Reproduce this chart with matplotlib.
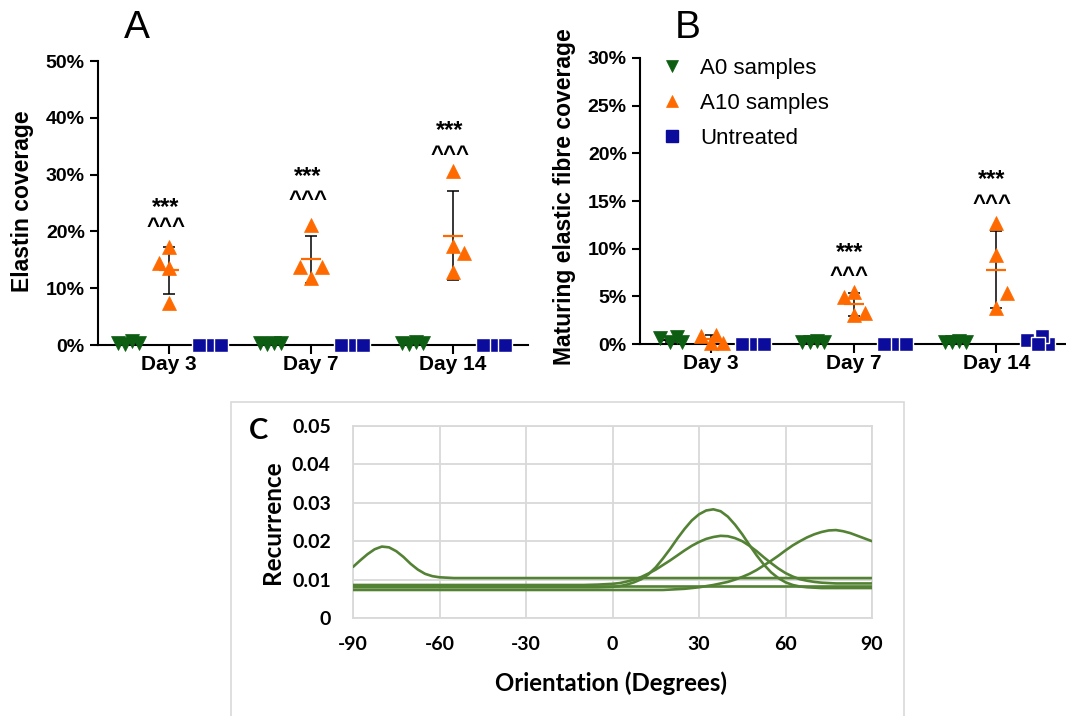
import numpy as np
import matplotlib
matplotlib.use("Agg")
import matplotlib.pyplot as plt
from matplotlib.patches import Rectangle
from matplotlib.ticker import FuncFormatter, MultipleLocator

plt.rcParams["axes.unicode_minus"] = False

W, H = 1066, 716

days = ["Day 3", "Day 7", "Day 14"]

# panel A - elastin coverage (%), 4 samples per group
a_a0 = [[0.4, 0.2, 0.7, 0.3], [0.3, 0.2, 0.4, 0.3], [0.3, 0.2, 0.5, 0.3]]
a_a10 = [[17.3, 14.4, 13.5, 7.4], [21.1, 13.7, 13.7, 11.8], [30.6, 17.4, 16.2, 12.9]]
a_untr = [[0.0, 0.0, 0.0, 0.0], [0.0, 0.0, 0.0, 0.0], [0.0, 0.0, 0.0, 0.0]]

# panel B - maturing elastic fibre coverage (%)
b_a0 = [[0.6, 0.2, 0.7, 0.2], [0.2, 0.2, 0.3, 0.2], [0.2, 0.2, 0.3, 0.2]]
b_a10 = [[0.8, 0.95, 0.1, 0.1], [4.9, 5.5, 3.0, 3.3], [12.7, 9.3, 5.4, 3.8]]
b_untr = [[0.05, 0.05, 0.05, 0.05], [0.05, 0.05, 0.05, 0.05], [0.05, 0.85, 0.4, 0.05]]

sig_top = "***"
sig_bot = "^^^"

# panel C - orientation distributions (read every 2.5 deg where curves bend)
orientation = [-90, -87.5, -85, -82.5, -80, -77.5, -75, -72.5, -70, -67.5, -65, -62.5,
               -60, -57.5, -55, -50, -45, -40, -35, -30, -25, -20, -15, -10, -5,
               0, 2.5, 5, 7.5, 10, 12.5, 15, 17.5, 20, 22.5, 25, 27.5, 30, 32.5, 35,
               37.5, 40, 42.5, 45, 47.5, 50, 52.5, 55, 57.5, 60, 62.5, 65, 67.5, 70,
               72.5, 75, 77.5, 80, 82.5, 85, 87.5, 90]
rec_1 = [0.0133, 0.0150, 0.0166, 0.0179, 0.0186, 0.0184, 0.0174, 0.0159, 0.0141, 0.0126,
         0.0115, 0.0109, 0.0106, 0.0105, 0.0104,
         0.0104, 0.0104, 0.0104, 0.0104, 0.0104, 0.0104, 0.0104, 0.0104, 0.0104, 0.0104,
         0.0104, 0.0104, 0.0104, 0.0104, 0.0104, 0.0104, 0.0104, 0.0104, 0.0104, 0.0104,
         0.0104, 0.0104, 0.0104, 0.0104, 0.0104, 0.0104, 0.0104, 0.0104, 0.0104, 0.0104,
         0.0104, 0.0104, 0.0104, 0.0104, 0.0104, 0.0104, 0.0104, 0.0104, 0.0104, 0.0104,
         0.0104, 0.0104, 0.0104, 0.0104, 0.0104, 0.0104, 0.0104]
rec_2 = [0.0080, 0.0080, 0.0080, 0.0080, 0.0080, 0.0080, 0.0080, 0.0080, 0.0080, 0.0080,
         0.0080, 0.0080, 0.0080, 0.0080, 0.0080,
         0.0080, 0.0080, 0.0080, 0.0080, 0.0080, 0.0080, 0.0080, 0.0080, 0.0080, 0.0080,
         0.0081, 0.0083, 0.0087, 0.0093, 0.0101, 0.0114, 0.0132, 0.0155, 0.0180, 0.0207,
         0.0232, 0.0254, 0.0270, 0.0280, 0.0283, 0.0278, 0.0264, 0.0243, 0.0218, 0.0190,
         0.0163, 0.0139, 0.0119, 0.0104, 0.0093, 0.0086, 0.0082, 0.0080, 0.0079, 0.0078,
         0.0078, 0.0078, 0.0078, 0.0078, 0.0078, 0.0078, 0.0078]
rec_3 = [0.0086, 0.0086, 0.0086, 0.0086, 0.0086, 0.0086, 0.0086, 0.0086, 0.0086, 0.0086,
         0.0086, 0.0086, 0.0086, 0.0086, 0.0086,
         0.0086, 0.0086, 0.0086, 0.0086, 0.0086, 0.0086, 0.0086, 0.0086, 0.0086, 0.0087,
         0.0089, 0.0091, 0.0095, 0.0100, 0.0107, 0.0116, 0.0126, 0.0138, 0.0150, 0.0163,
         0.0176, 0.0188, 0.0198, 0.0206, 0.0211, 0.0214, 0.0213, 0.0208, 0.0200, 0.0188,
         0.0174, 0.0158, 0.0143, 0.0129, 0.0117, 0.0108, 0.0101, 0.0097, 0.0094, 0.0092,
         0.0091, 0.0090, 0.0090, 0.0090, 0.0090, 0.0090, 0.0090]
rec_4 = [0.0073, 0.0073, 0.0073, 0.0073, 0.0073, 0.0073, 0.0073, 0.0073, 0.0073, 0.0073,
         0.0073, 0.0073, 0.0073, 0.0073, 0.0073,
         0.0073, 0.0073, 0.0073, 0.0073, 0.0073, 0.0073, 0.0073, 0.0073, 0.0073, 0.0073,
         0.0073, 0.0073, 0.0073, 0.0073, 0.0073, 0.0073, 0.0073, 0.0073, 0.0074, 0.0075,
         0.0076, 0.0078, 0.0080, 0.0083, 0.0086, 0.0090, 0.0094, 0.0100, 0.0107, 0.0115,
         0.0125, 0.0137, 0.0149, 0.0162, 0.0176, 0.0189, 0.0200, 0.0210, 0.0218, 0.0224,
         0.0228, 0.0229, 0.0226, 0.0221, 0.0214, 0.0207, 0.0200]
rec_5 = [0.0083, 0.0083, 0.0083, 0.0083, 0.0083, 0.0083, 0.0083, 0.0083, 0.0083, 0.0083,
         0.0083, 0.0083, 0.0083, 0.0083, 0.0083,
         0.0083, 0.0083, 0.0083, 0.0083, 0.0083, 0.0083, 0.0083, 0.0083, 0.0083, 0.0083,
         0.0083, 0.0083, 0.0083, 0.0083, 0.0083, 0.0083, 0.0083, 0.0083, 0.0083, 0.0083,
         0.0083, 0.0083, 0.0083, 0.0083, 0.0083, 0.0083, 0.0083, 0.0083, 0.0083, 0.0083,
         0.0083, 0.0083, 0.0083, 0.0083, 0.0083, 0.0083, 0.0083, 0.0083, 0.0083, 0.0083,
         0.0083, 0.0083, 0.0083, 0.0083, 0.0083, 0.0083, 0.0083]

GREEN = "#0d5e12"
ORANGE = "#ff6a00"
NAVY = "#0c0c9c"
CGREEN = "#548235"
ARIAL = "Liberation Sans"
CAL = "Lato"

# layout: horizontal jitter of the points inside each group
grp_shift = {"a0": -0.285, "a10": 0.0, "untr": 0.29}
jit_tri = [-0.075, -0.025, 0.025, 0.075]
jit_sq = [-0.01, 0.01, -0.077, 0.077]
a_jit_a10 = [[0, -0.07, 0, 0], [0, -0.077, 0.077, 0], [0, 0, 0.077, 0]]
b_jit_a10 = [[-0.07, 0.035, 0, 0.08], [-0.07, 0, 0, 0.08], [0, 0, 0.077, 0]]
b_jit_a0 = [-0.077, -0.007, 0.042, 0.077]
b_jit_untr14 = [0.07, 0.03, -0.075, 0.0]


def draw_group(ax, pos, vals, jit, color, marker, mean_color):
    x = pos + np.array(jit)
    if marker == "s":
        edge, mew = "white", 1.0
    else:
        edge, mew = color, 0.5
    h, = ax.plot(x, vals, ls="none", marker=marker, ms=10, color=color,
                 mec=edge, mew=mew, zorder=4, clip_on=False)
    m = np.mean(vals)
    s = np.std(vals, ddof=1)
    ax.errorbar(pos, m, yerr=s, color="black", lw=1.1, capsize=4, capthick=1.1,
                zorder=2, clip_on=False)
    ax.hlines(m, pos - 0.07, pos + 0.07, color=mean_color, lw=1.6, zorder=3,
              clip_on=False)
    return h


def style_gp(ax, ymax, step):
    ax.set_xlim(0.5, 3.53)
    ax.set_ylim(0, ymax)
    for s in ["top", "right"]:
        ax.spines[s].set_visible(False)
    for s in ["left", "bottom"]:
        ax.spines[s].set_linewidth(1.5)
    ax.yaxis.set_major_locator(MultipleLocator(step))
    ax.yaxis.set_major_formatter(FuncFormatter(lambda v, p: f"{int(round(v))}%"))
    ax.set_xticks([1, 2, 3])
    ax.set_xticklabels(days)
    ax.tick_params(axis="y", length=5.5, width=1.5, pad=4, labelsize=14)
    ax.tick_params(axis="x", length=6.5, width=1.5, pad=1, labelsize=15)
    for lab in ax.get_xticklabels() + ax.get_yticklabels():
        lab.set_fontfamily(ARIAL)
        lab.set_fontweight("bold")


fig = plt.figure(figsize=(W / 100, H / 100), dpi=100)

# ---------------- panel A
axA = fig.add_axes([98 / W, 1 - 345 / H, 430 / W, 284 / H])
for i in range(3):
    pos = i + 1
    draw_group(axA, pos + grp_shift["a0"], a_a0[i], jit_tri, GREEN, "v", "black")
    draw_group(axA, pos + grp_shift["a10"], a_a10[i], a_jit_a10[i], ORANGE, "^", ORANGE)
    draw_group(axA, pos + grp_shift["untr"], a_untr[i], jit_sq, NAVY, "s", "black")
style_gp(axA, 50, 10)
a_sig = [(23.1, 19.7), (28.5, 24.5), (36.6, 32.4)]
for i, (yt, yb) in enumerate(a_sig):
    axA.text(i + 1 - 0.02, yt, sig_top, ha="center", va="baseline", fontsize=17,
             fontweight="bold", family=ARIAL)
    axA.text(i + 1 - 0.02, yb, sig_bot, ha="center", va="baseline", fontsize=16,
             fontweight="bold", family=ARIAL)
fig.text(22.5 / W, 1 - 201 / H, "Elastin coverage", rotation=90, ha="center",
         va="center", fontsize=16.5, fontweight="bold", family=ARIAL)
fig.text(137 / W, 1 - 28 / H, "A", ha="center", va="center", fontsize=28, family=ARIAL)

# ---------------- panel B
axB = fig.add_axes([640 / W, 1 - 344 / H, 427.5 / W, 286 / H])
handles = []
for i in range(3):
    pos = i + 1
    j0 = b_jit_a0 if i == 0 else jit_tri
    h0 = draw_group(axB, pos + grp_shift["a0"], b_a0[i], j0, GREEN, "v", "black")
    h1 = draw_group(axB, pos + grp_shift["a10"], b_a10[i], b_jit_a10[i], ORANGE, "^", ORANGE)
    ju = b_jit_untr14 if i == 2 else jit_sq
    h2 = draw_group(axB, pos + grp_shift["untr"], b_untr[i], ju, NAVY, "s", "black")
    if i == 0:
        handles = [h0, h1, h2]
style_gp(axB, 30, 5)
axB.set_xlim(0.5, 3.5)
b_sig = [(8.9, 6.5), (16.6, 14.1)]
for i, (yt, yb) in zip([1, 2], b_sig):
    axB.text(i + 1 - 0.03, yt, sig_top, ha="center", va="baseline", fontsize=17,
             fontweight="bold", family=ARIAL)
    axB.text(i + 1 - 0.03, yb, sig_bot, ha="center", va="baseline", fontsize=16,
             fontweight="bold", family=ARIAL)
fig.text(565 / W, 1 - 197 / H, "Maturing elastic fibre coverage", rotation=90,
         ha="center", va="center", fontsize=16.5, fontweight="bold", family=ARIAL)
fig.text(688 / W, 1 - 28 / H, "B", ha="center", va="center", fontsize=28, family=ARIAL)
leg = axB.legend(handles, ["A0 samples", "A10 samples", "Untreated"],
                 loc="upper left", bbox_to_anchor=(661 / W, 1 - 58 / H),
                 bbox_transform=fig.transFigure, frameon=False, borderpad=0,
                 borderaxespad=0, handlelength=1.0, handletextpad=0.75,
                 labelspacing=0.62, markerscale=0.85,
                 prop={"family": ARIAL, "size": 16})
for lh in leg.legend_handles:
    lh.set_markeredgecolor(lh.get_color())

# ---------------- panel C
fig.patches.append(Rectangle((231 / W, -0.01), (904 - 231) / W, 1.01 - 402 / H,
                             transform=fig.transFigure, fill=False,
                             edgecolor="#d9d9d9", lw=1.2))
axC = fig.add_axes([353 / W, 1 - 618 / H, 519 / W, 192 / H])
for r in [rec_1, rec_2, rec_3, rec_4, rec_5]:
    axC.plot(orientation, r, color=CGREEN, lw=1.9, solid_joinstyle="round",
             solid_capstyle="round", zorder=3)
axC.set_xlim(-90, 90)
axC.set_ylim(0, 0.05)
axC.set_xticks(range(-90, 91, 30))
axC.set_yticks([0, 0.01, 0.02, 0.03, 0.04, 0.05])
axC.yaxis.set_major_formatter(FuncFormatter(lambda v, p: "0" if v == 0 else f"{v:.2f}"))
axC.grid(True, color="#d9d9d9", lw=1.3, zorder=0)
axC.set_axisbelow(True)
for s in axC.spines.values():
    s.set_color("#d9d9d9")
    s.set_linewidth(1.3)
axC.tick_params(length=0, labelsize=14)
axC.tick_params(axis="y", pad=16)
axC.tick_params(axis="x", pad=13)
for lab in axC.get_xticklabels() + axC.get_yticklabels():
    lab.set_fontfamily(CAL)
    lab.set_fontweight("bold")
fig.text(272 / W, 1 - 522 / H, "Recurrence", rotation=90, ha="center", va="center",
         fontsize=17.5, fontweight="bold", family=CAL)
fig.text(611 / W, 1 - 683 / H, "Orientation (Degrees)", ha="center", va="center",
         fontsize=17.3, fontweight="bold", family=CAL)
fig.text(259 / W, 1 - 431 / H, "C", ha="center", va="center", fontsize=21,
         fontweight="bold", family=CAL)

fig.savefig("out.png", dpi=100)
